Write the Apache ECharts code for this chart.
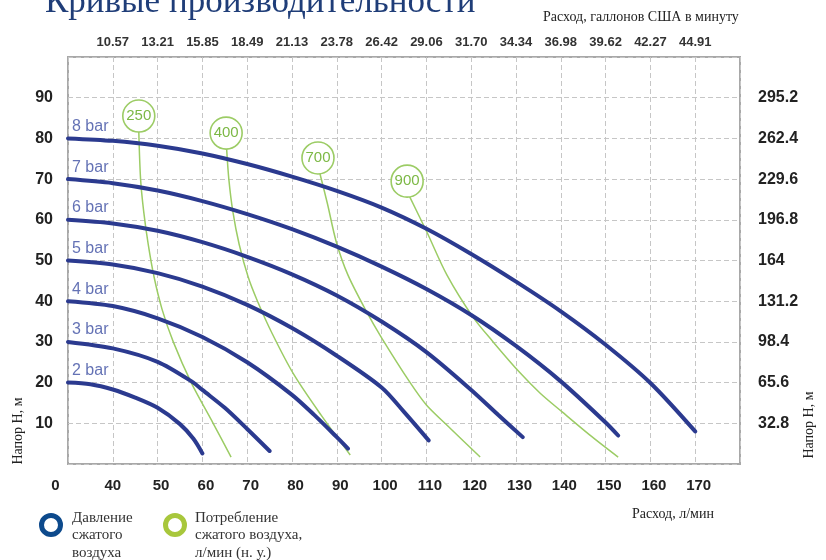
<!DOCTYPE html>
<html><head><meta charset="utf-8">
<script src="https://cdn.jsdelivr.net/npm/echarts@6/dist/echarts.min.js"></script>
<style>html,body{margin:0;padding:0;background:#fff}#c{width:826px;height:560px}</style>
</head><body><div id="c"></div>
<script>
// ---- data ----
const barNames = ['2 bar','3 bar','4 bar','5 bar','6 bar','7 bar','8 bar'];
const bar2 = [[30,20],[35,19.6],[40,18.3],[45,16.3],[50,13.8],[55,9.8],[58,6.2],[60,2.6]];
const bar3 = [[30,30],[40,28.4],[50,25.1],[58,20],[60,18.2],[65,13.8],[70,8.6],[75,3.2]];
const bar4 = [[30,40],[40,38.8],[50,35.8],[60,31.2],[70,25],[80,17],[85,12],[90,6.6],[92.5,3.8]];
const bar5 = [[30,50],[40,49],[50,46.9],[60,43.6],[70,39.1],[80,33.4],[90,26.6],[100,18.8],[105,12.8],[110.5,5.8]];
const bar6 = [[30,60],[40,59.1],[50,57.3],[60,54.5],[70,50.9],[80,46.6],[90,41.4],[100,35],[110,27.5],[120,18.2],[126,12.1],[131.5,6.6]];
const bar7 = [[30,70],[40,69],[50,67.2],[60,64.6],[70,61.4],[80,57.7],[90,53.4],[100,48.5],[110,43],[120,36.6],[130,29],[140,20.3],[150,10.2],[152.8,7]];
const bar8 = [[30,80],[40,79.4],[50,78.2],[60,76.3],[70,73.7],[80,70.6],[90,67.1],[100,63],[110,57.8],[120,51.6],[130,44.8],[140,37.5],[150,29.3],[160,19.9],[170,8]];
const barCurves = [bar2, bar3, bar4, bar5, bar6, bar7, bar8];

const airNames = ['250','400','700','900'];
const airBadges = [[45.8,85.5],[65.3,81.3],[85.8,75.2],[105.7,69.5]];
const air250 = [[45.8,81.8],[46.2,70],[46.9,62],[47.9,54],[49.2,46],[51,38],[53.5,30],[57.5,20],[62.4,10],[66.4,1.7]];
const air400 = [[65.4,77.6],[65.9,70],[66.8,62],[68.2,54],[70.2,46],[72.3,40],[75.6,32],[80.4,22],[86.5,12],[93,2.2]];
const air700 = [[86.2,71.5],[87.9,64],[89.9,54.5],[92.5,46.4],[96.7,37.3],[100,31],[106.3,20.1],[110,14.5],[115.3,8.8],[122,1.7]];
const air900 = [[106.2,65.8],[110.1,57],[114.6,46.4],[120.4,36.1],[124.9,30],[130.9,22.4],[135.4,17.4],[140.3,12.8],[146.5,7.1],[152.8,1.7]];
const airCurves = [air250, air400, air700, air900];

const galLabels = ['10.57','13.21','15.85','18.49','21.13','23.78','26.42','29.06','31.70','34.34','36.98','39.62','42.27','44.91']; // at 40..170 l/min
const ftLabels = ['32.8','65.6','98.4','131.2','164','196.8','229.6','262.4','295.2']; // at 10..90 m

// ---- styles ----
const SANS = '"Liberation Sans", Arial, sans-serif';
const SERIF = '"Liberation Serif", "Times New Roman", serif';
const BLUE = '#2b3a8f';
const GREEN = '#9ccc65';
const lblBase = {fontFamily: SANS, fontWeight: 'bold', fontSize: 15, color: '#222'};

const series = [];
airCurves.forEach((d, i) => series.push({
  type: 'line', name: 'air' + airNames[i], data: d, smooth: 0.3,
  showSymbol: false, silent: true, z: 3,
  lineStyle: {color: GREEN, width: 1.5}
}));
barCurves.forEach((d, i) => series.push({
  type: 'line', name: barNames[i], data: d, smooth: 0.3,
  showSymbol: false, silent: true, z: 5,
  lineStyle: {color: BLUE, width: 4, cap: 'round'}
}));
series.push({
  type: 'scatter', silent: true, z: 6, symbolSize: 0,
  data: barCurves.map(d => d[0]),
  label: {show: true, position: 'right', distance: 4, offset: [0, -12],
    formatter: p => barNames[p.dataIndex], fontFamily: SANS, fontSize: 16, color: '#3d4fa3'}
});
series.push({
  type: 'scatter', silent: true, z: 7, symbol: 'circle', symbolSize: 32,
  data: airBadges,
  itemStyle: {color: '#fff', borderColor: GREEN, borderWidth: 1.6, opacity: 1},
  label: {show: true, position: 'inside', formatter: p => airNames[p.dataIndex],
    fontFamily: SANS, fontSize: 15, color: '#7cb845'}
});

const option = {
  backgroundColor: '#fff',
  animation: false,
  grid: {left: 68, right: 86, top: 57, bottom: 96, show: true, borderColor: '#a8a8a8', borderWidth: 2, backgroundColor: 'transparent'},
  xAxis: [{
    type: 'value', min: 30, max: 180, interval: 10, position: 'bottom',
    axisLine: {show: false}, axisTick: {show: false},
    splitLine: {show: true, lineStyle: {color: '#c6c6c6', type: [5, 3], width: 1}},
    axisLabel: {
      margin: 14, showMinLabel: true, showMaxLabel: true,
      formatter: v => v === 30 ? '{z|0}' : (v >= 40 && v <= 170 ? (v === 40 ? '{a|40}' : '{b|' + v + '}') : ''),
      rich: {
        z: Object.assign({}, lblBase, {padding: [0, 25, 0, 0]}),
        a: Object.assign({}, lblBase),
        b: Object.assign({}, lblBase, {padding: [0, 0, 0, 7]})
      }
    }
  }, {
    type: 'value', min: 30, max: 180, interval: 10, position: 'top',
    axisLine: {show: false}, axisTick: {show: false}, splitLine: {show: false},
    axisLabel: {margin: 8, fontFamily: SANS, fontWeight: 'bold', fontSize: 13, color: '#333',
      formatter: v => (v >= 40 && v <= 170) ? galLabels[Math.round((v - 40) / 10)] : ''}
  }],
  yAxis: [{
    type: 'value', min: 0, max: 100, interval: 10, position: 'left',
    axisLine: {show: false}, axisTick: {show: false},
    splitLine: {show: true, lineStyle: {color: '#c6c6c6', type: [5, 3], width: 1}},
    axisLabel: {margin: 15, fontFamily: SANS, fontWeight: 'bold', fontSize: 16, color: '#222',
      formatter: v => (v >= 10 && v <= 90) ? String(v) : ''}
  }, {
    type: 'value', min: 0, max: 100, interval: 10, position: 'right',
    axisLine: {show: false}, axisTick: {show: false}, splitLine: {show: false},
    axisLabel: {margin: 18, fontFamily: SANS, fontWeight: 'bold', fontSize: 16, color: '#222', padding: [0, 0, 12, 0],
      formatter: v => (v >= 10 && v <= 90) ? ftLabels[Math.round(v / 10) - 1] : ''}
  }],
  graphic: [
    {type: 'text', x: 45, y: 3, style: {text: 'Кривые производительности', font: '35px ' + SERIF, fill: '#1f3d78', align: 'left', verticalAlign: 'middle'}},
    {type: 'text', x: 543, y: 17, style: {text: 'Расход, галлонов США в минуту', font: '14px ' + SERIF, fill: '#222', align: 'left', verticalAlign: 'middle'}},
    {type: 'text', x: 632, y: 514, style: {text: 'Расход, л/мин', font: '14px ' + SERIF, fill: '#222', align: 'left', verticalAlign: 'middle'}},
    {type: 'text', x: 18, y: 431, rotation: Math.PI / 2, style: {text: 'Напор Н, м', font: '14px ' + SERIF, fill: '#222', align: 'center', verticalAlign: 'middle'}},
    {type: 'text', x: 809, y: 425, rotation: Math.PI / 2, style: {text: 'Напор Н, м', font: '14px ' + SERIF, fill: '#222', align: 'center', verticalAlign: 'middle'}},
    {type: 'circle', shape: {cx: 51, cy: 525, r: 9.5}, style: {fill: 'none', stroke: '#0d4a8c', lineWidth: 5}},
    {type: 'circle', shape: {cx: 175, cy: 525, r: 9.5}, style: {fill: 'none', stroke: '#a8c73c', lineWidth: 5}},
    {type: 'text', x: 72, y: 509, style: {text: 'Давление\nсжатого\nвоздуха', font: '15px ' + SERIF, lineHeight: 17.5, fill: '#333', align: 'left', verticalAlign: 'top'}},
    {type: 'text', x: 195, y: 509, style: {text: 'Потребление\nсжатого воздуха,\nл/мин (н. у.)', font: '15px ' + SERIF, lineHeight: 17.5, fill: '#333', align: 'left', verticalAlign: 'top'}}
  ],
  series: series
};
const chart = echarts.init(document.getElementById('c'), null, {renderer: 'canvas'});
chart.setOption(option);
</script>
</body></html>
